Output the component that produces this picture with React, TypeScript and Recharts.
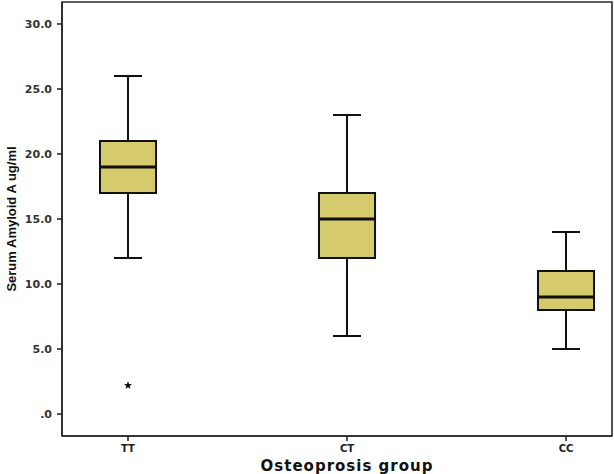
import {
  ComposedChart,
  XAxis,
  YAxis,
  Scatter,
  ReferenceArea,
  ReferenceLine,
  Label,
} from "recharts";

const groups = ["TT", "CT", "CC"];
const whiskerLow = [12, 6, 5];
const q1 = [17, 12, 8];
const median = [19, 15, 9];
const q3 = [21, 17, 11];
const whiskerHigh = [26, 23, 14];
const outlierGroup = ["TT"];
const outlierValue = [2.2];
const yTicks = [0, 5, 10, 15, 20, 25, 30];

const X_DOMAIN = [-0.3014, 2.21];
const Y_DOMAIN = [-1.69, 31.69];
const BOX_HALF = 0.128;
const CAP_HALF = 0.064;
const BOX_FILL = "#d6cb6c";
const INK = "#111";
const FRAME = "#2a2a2a";

const outliers = outlierGroup.map((g, i) => ({
  x: groups.indexOf(g),
  y: outlierValue[i],
}));

function Star({ cx, cy }: any) {
  const pts: string[] = [];
  for (let k = 0; k < 10; k++) {
    const r = k % 2 === 0 ? 4.2 : 1.8;
    const a = -Math.PI / 2 + (k * Math.PI) / 5;
    pts.push(`${cx + r * Math.cos(a)},${cy + r * Math.sin(a)}`);
  }
  return <polygon points={pts.join(" ")} fill="#111" />;
}

const fmtY = (v: number) => (v === 0 ? ".0" : v.toFixed(1));

export default function App() {
  return (
    <div style={{ position: "absolute", left: 0, top: 0, background: "#fff" }}>
      <ComposedChart
        width={614}
        height={474}
        margin={{ top: 2, right: 2, left: 0, bottom: 0 }}
      >
        <XAxis
          type="number"
          dataKey="x"
          domain={X_DOMAIN}
          allowDataOverflow
          ticks={[0, 1, 2]}
          tickFormatter={(i: number) => groups[i]}
          height={38}
          tickSize={5}
          tickMargin={4}
          axisLine={{ stroke: FRAME, strokeWidth: 1.6 }}
          tickLine={{ stroke: FRAME, strokeWidth: 1.6 }}
          tick={{
            fill: "#222",
            fontSize: 10,
            fontWeight: "bold",
            fontFamily: "DejaVu Sans",
          }}
        >
          <Label
            value="Osteoprosis group"
            position="insideBottom"
            offset={3}
            dx={10}
            style={{
              fill: "#111",
              fontSize: 15,
              fontWeight: "bold",
              fontFamily: "DejaVu Sans",
              letterSpacing: 1,
            }}
          />
        </XAxis>
        <YAxis
          type="number"
          dataKey="y"
          domain={Y_DOMAIN}
          allowDataOverflow
          ticks={yTicks}
          tickFormatter={fmtY}
          width={62}
          tickSize={5}
          tickMargin={5}
          axisLine={{ stroke: FRAME, strokeWidth: 1.6 }}
          tickLine={{ stroke: FRAME, strokeWidth: 1.6 }}
          tick={{
            fill: "#333",
            fontSize: 11,
            fontWeight: "bold",
            fontFamily: "DejaVu Sans",
          }}
        >
          <Label
            value="Serum Amyloid A ug/ml"
            angle={-90}
            position="insideLeft"
            offset={11}
            style={{
              textAnchor: "middle",
              fill: "#111",
              fontSize: 13,
              fontWeight: "bold",
              fontFamily: "Liberation Sans",
            }}
          />
        </YAxis>

        <ReferenceArea
          x1={X_DOMAIN[0]}
          x2={X_DOMAIN[1]}
          y1={Y_DOMAIN[0]}
          y2={Y_DOMAIN[1]}
          fill="none"
          stroke={FRAME}
          strokeWidth={1.6}
        />

        {groups.map((g, i) => (
          <ReferenceArea
            key={`box-${g}`}
            x1={i - BOX_HALF}
            x2={i + BOX_HALF}
            y1={q1[i]}
            y2={q3[i]}
            fill={BOX_FILL}
            fillOpacity={1}
            stroke={INK}
            strokeWidth={2}
          />
        ))}
        {groups.map((g, i) => (
          <ReferenceLine
            key={`wl-${g}`}
            segment={[
              { x: i, y: whiskerLow[i] },
              { x: i, y: q1[i] },
            ]}
            stroke={INK}
            strokeWidth={2}
          />
        ))}
        {groups.map((g, i) => (
          <ReferenceLine
            key={`wh-${g}`}
            segment={[
              { x: i, y: q3[i] },
              { x: i, y: whiskerHigh[i] },
            ]}
            stroke={INK}
            strokeWidth={2}
          />
        ))}
        {groups.map((g, i) => (
          <ReferenceLine
            key={`cl-${g}`}
            segment={[
              { x: i - CAP_HALF, y: whiskerLow[i] },
              { x: i + CAP_HALF, y: whiskerLow[i] },
            ]}
            stroke={INK}
            strokeWidth={2}
          />
        ))}
        {groups.map((g, i) => (
          <ReferenceLine
            key={`ch-${g}`}
            segment={[
              { x: i - CAP_HALF, y: whiskerHigh[i] },
              { x: i + CAP_HALF, y: whiskerHigh[i] },
            ]}
            stroke={INK}
            strokeWidth={2}
          />
        ))}
        {groups.map((g, i) => (
          <ReferenceLine
            key={`md-${g}`}
            segment={[
              { x: i - BOX_HALF, y: median[i] },
              { x: i + BOX_HALF, y: median[i] },
            ]}
            stroke={INK}
            strokeWidth={3}
          />
        ))}
        <Scatter
          data={outliers}
          dataKey="y"
          shape={<Star />}
          isAnimationActive={false}
        />
      </ComposedChart>
    </div>
  );
}
